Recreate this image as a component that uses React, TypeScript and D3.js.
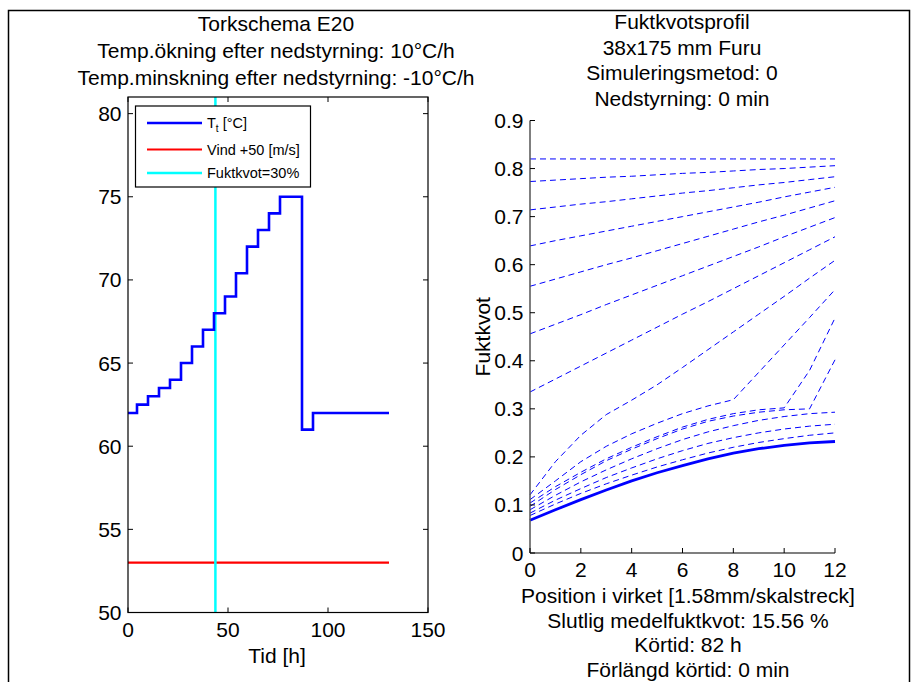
import React from "react";
import * as d3 from "d3";

// ---------- Left panel data ----------
const stepTimes = [0, 4.5, 10, 15.5, 21, 26.5, 32, 37.5, 43, 48.5, 54, 59.5, 65, 70.5, 76, 87, 92.5];
const stepTemps = [62, 62.5, 63, 63.5, 64, 65, 66, 67, 68, 69, 70.4, 72, 73, 74, 75, 61, 62];
const scheduleEnd = 130.5;
const windTimes = [0, 130.5];
const windValues = [53, 53];
const fuktkvot30Time = 43.7;
const leftXTicks = [0, 50, 100, 150];
const leftYTicks = [50, 55, 60, 65, 70, 75, 80];
const leftTitle = [
  "Torkschema E20",
  "Temp.ökning efter nedstyrning: 10°C/h",
  "Temp.minskning efter nedstyrning: -10°C/h",
];
const leftXLabel = "Tid [h]";
const legendLabels = ["Vind +50 [m/s]", "Fuktkvot=30%"];

// ---------- Right panel data ----------
const positions = [0, 1, 2, 3, 4, 5, 6, 7, 8, 9, 10, 11, 12];
const p1 = [0.82, 0.82, 0.82, 0.82, 0.82, 0.82, 0.82, 0.82, 0.82, 0.82, 0.82, 0.82, 0.82];
const p2 = [0.773, 0.776, 0.779, 0.782, 0.784, 0.787, 0.79, 0.792, 0.795, 0.798, 0.8, 0.803, 0.806];
const p3 = [0.714, 0.72, 0.726, 0.731, 0.737, 0.743, 0.749, 0.754, 0.76, 0.766, 0.771, 0.777, 0.783];
const p4 = [0.639, 0.65, 0.66, 0.67, 0.68, 0.69, 0.7, 0.71, 0.72, 0.73, 0.741, 0.751, 0.761];
const p5 = [0.555, 0.57, 0.585, 0.6, 0.614, 0.629, 0.644, 0.659, 0.674, 0.689, 0.703, 0.718, 0.733];
const p6 = [0.456, 0.476, 0.496, 0.517, 0.537, 0.557, 0.577, 0.597, 0.617, 0.637, 0.658, 0.678, 0.698];
const p7 = [0.335, 0.362, 0.389, 0.416, 0.443, 0.47, 0.497, 0.523, 0.55, 0.577, 0.604, 0.631, 0.658];
const p8 = [0.121, 0.19, 0.245, 0.288, 0.318, 0.35, 0.386, 0.423, 0.46, 0.497, 0.534, 0.572, 0.609];
const p9 = [0.111, 0.15, 0.19, 0.222, 0.248, 0.27, 0.29, 0.306, 0.319, 0.376, 0.433, 0.49, 0.548];
const p10 = [0.104, 0.138, 0.168, 0.196, 0.22, 0.242, 0.262, 0.278, 0.29, 0.298, 0.302, 0.38, 0.489];
const p11 = [0.097, 0.132, 0.163, 0.192, 0.216, 0.238, 0.258, 0.274, 0.285, 0.293, 0.298, 0.3, 0.402];
const p12 = [0.09, 0.12, 0.148, 0.173, 0.196, 0.217, 0.236, 0.252, 0.265, 0.276, 0.284, 0.29, 0.293];
const p13 = [0.083, 0.11, 0.134, 0.157, 0.177, 0.196, 0.213, 0.228, 0.24, 0.25, 0.258, 0.264, 0.268];
const p14 = [0.078, 0.102, 0.124, 0.144, 0.162, 0.179, 0.194, 0.208, 0.22, 0.23, 0.238, 0.245, 0.25];
const dashedProfiles = [p1, p2, p3, p4, p5, p6, p7, p8, p9, p10, p11, p12, p13, p14];
const finalProfile = [0.068, 0.09, 0.111, 0.131, 0.15, 0.167, 0.182, 0.196, 0.208, 0.217, 0.224, 0.229, 0.232];
const rightXTicks = [0, 2, 4, 6, 8, 10, 12];
const rightYTicks = [0, 0.1, 0.2, 0.3, 0.4, 0.5, 0.6, 0.7, 0.8, 0.9];
const rightTitle = ["Fuktkvotsprofil", "38x175 mm Furu", "Simuleringsmetod: 0", "Nedstyrning: 0 min"];
const rightXLabel = [
  "Position i virket [1.58mm/skalstreck]",
  "Slutlig medelfuktkvot: 15.56 %",
  "Körtid: 82 h",
  "Förlängd körtid: 0 min",
];
const rightYLabel = "Fuktkvot";

const FONT = "'Liberation Sans', Arial, Helvetica, sans-serif";
const FS = 21;

export default function App() {
  // Left axes
  const lx = d3.scaleLinear().domain([0, 150]).range([128, 428]);
  const ly = d3.scaleLinear().domain([50, 81]).range([612.5, 97]);
  // Right axes
  const rx = d3.scaleLinear().domain([0, 12]).range([530, 835]);
  const ry = d3.scaleLinear().domain([0, 0.9]).range([553, 120.5]);

  const stepPts: [number, number][] = stepTimes.map((t, i) => [t, stepTemps[i]]);
  stepPts.push([scheduleEnd, stepTemps[stepTemps.length - 1]]);
  const stepLine = d3
    .line<[number, number]>()
    .x((d) => lx(d[0]))
    .y((d) => ly(d[1]))
    .curve(d3.curveStepAfter);
  const windPts: [number, number][] = windTimes.map((t, i) => [t, windValues[i]]);
  const plainLine = d3
    .line<[number, number]>()
    .x((d) => lx(d[0]))
    .y((d) => ly(d[1]));

  const profLine = d3
    .line<number>()
    .x((_, i) => rx(positions[i]))
    .y((d) => ry(d));

  const L = { x0: lx(0), x1: lx(150), y0: ly(50), y1: ly(81) };
  const R = { x0: rx(0), x1: rx(12), y0: ry(0), y1: ry(0.9) };
  const tick = 5;

  const fmtR = (v: number) => (v === 0 ? "0" : d3.format(".1f")(v));

  // legend
  const lg = { x: 135.5, y: 106, w: 175, h: 81 };
  const legRows = [123, 149.5, 173];

  return (
    <svg
      width={911}
      height={682}
      style={{ position: "absolute", left: 0, top: 0, background: "#fff" }}
      fontFamily={FONT}
    >
      <rect x={0} y={0} width={911} height={682} fill="#fff" />
      {/* figure border */}
      <rect x={8.5} y={10.5} width={901} height={720} fill="none" stroke="#000" strokeWidth={1.5} />

      {/* ---------- LEFT PANEL ---------- */}
      {leftTitle.map((t, i) => (
        <text key={"lt" + i} x={276} y={31 + i * 27} textAnchor="middle" fontSize={FS} fill="#000">
          {t}
        </text>
      ))}
      <g>
        {/* data */}
        <path d={plainLine(windPts) || ""} fill="none" stroke="#ff0000" strokeWidth={2.2} />
        <path
          d={plainLine([
            [fuktkvot30Time, 50],
            [fuktkvot30Time, 81],
          ]) || ""}
          fill="none"
          stroke="#00ffff"
          strokeWidth={2.5}
        />
        <path d={stepLine(stepPts) || ""} fill="none" stroke="#0000ff" strokeWidth={2.6} />
        {/* box */}
        <rect x={L.x0} y={L.y1} width={L.x1 - L.x0} height={L.y0 - L.y1} fill="none" stroke="#000" strokeWidth={1.2} />
        {leftXTicks.map((v) => (
          <g key={"lxt" + v}>
            <line x1={lx(v)} x2={lx(v)} y1={L.y0} y2={L.y0 - tick} stroke="#000" />
            <line x1={lx(v)} x2={lx(v)} y1={L.y1} y2={L.y1 + tick} stroke="#000" />
            <text x={lx(v)} y={L.y0 + 24} textAnchor="middle" fontSize={FS}>
              {v}
            </text>
          </g>
        ))}
        {leftYTicks.map((v) => (
          <g key={"lyt" + v}>
            <line x1={L.x0} x2={L.x0 + tick} y1={ly(v)} y2={ly(v)} stroke="#000" />
            <line x1={L.x1} x2={L.x1 - tick} y1={ly(v)} y2={ly(v)} stroke="#000" />
            <text x={121.5} y={ly(v) + 7.5} textAnchor="end" fontSize={FS}>
              {v}
            </text>
          </g>
        ))}
        <text x={277} y={663} textAnchor="middle" fontSize={FS}>
          {leftXLabel}
        </text>
        {/* legend */}
        <rect x={lg.x} y={lg.y} width={lg.w} height={lg.h} fill="#fff" stroke="#000" strokeWidth={1.2} />
        <line x1={147} x2={202} y1={legRows[0]} y2={legRows[0]} stroke="#0000ff" strokeWidth={2.6} />
        <text x={207} y={legRows[0] + 5} fontSize={14.5}>
          T<tspan fontSize={10} dy={4}>t</tspan>
          <tspan dy={-4}> [°C]</tspan>
        </text>
        <line x1={147} x2={202} y1={legRows[1]} y2={legRows[1]} stroke="#ff0000" strokeWidth={2.2} />
        <text x={207} y={legRows[1] + 5} fontSize={14.5}>
          {legendLabels[0]}
        </text>
        <line x1={147} x2={202} y1={legRows[2]} y2={legRows[2]} stroke="#00ffff" strokeWidth={2.5} />
        <text x={207} y={legRows[2] + 5} fontSize={14.5}>
          {legendLabels[1]}
        </text>
      </g>

      {/* ---------- RIGHT PANEL ---------- */}
      {rightTitle.map((t, i) => (
        <text key={"rt" + i} x={682} y={29 + i * 25.7} textAnchor="middle" fontSize={FS} fill="#000">
          {t}
        </text>
      ))}
      <g>
        {dashedProfiles.map((p, i) => (
          <path
            key={"dp" + i}
            d={profLine(p) || ""}
            fill="none"
            stroke="#0000ff"
            strokeWidth={1}
            strokeDasharray="6 4"
          />
        ))}
        <path d={profLine(finalProfile) || ""} fill="none" stroke="#0000ff" strokeWidth={2.8} />
        <line x1={R.x0} x2={R.x0} y1={R.y0} y2={R.y1} stroke="#555" strokeWidth={1.5} />
        <line x1={R.x0} x2={R.x1} y1={R.y0} y2={R.y0} stroke="#555" strokeWidth={1.5} />
        {rightXTicks.map((v) => (
          <g key={"rxt" + v}>
            <line x1={rx(v)} x2={rx(v)} y1={R.y0} y2={R.y0 - tick} stroke="#000" />
            <text x={rx(v)} y={R.y0 + 24} textAnchor="middle" fontSize={FS}>
              {v}
            </text>
          </g>
        ))}
        {rightYTicks.map((v) => (
          <g key={"ryt" + v}>
            <line x1={R.x0} x2={R.x0 + tick} y1={ry(v)} y2={ry(v)} stroke="#000" />
            <text x={523.5} y={ry(v) + 7.5} textAnchor="end" fontSize={FS}>
              {fmtR(v)}
            </text>
          </g>
        ))}
        {rightXLabel.map((t, i) => (
          <text key={"rxl" + i} x={688} y={603 + i * 24.6} textAnchor="middle" fontSize={FS}>
            {t}
          </text>
        ))}
        <text transform={`translate(490,${(R.y0 + R.y1) / 2}) rotate(-90)`} textAnchor="middle" fontSize={FS}>
          {rightYLabel}
        </text>
      </g>
    </svg>
  );
}
